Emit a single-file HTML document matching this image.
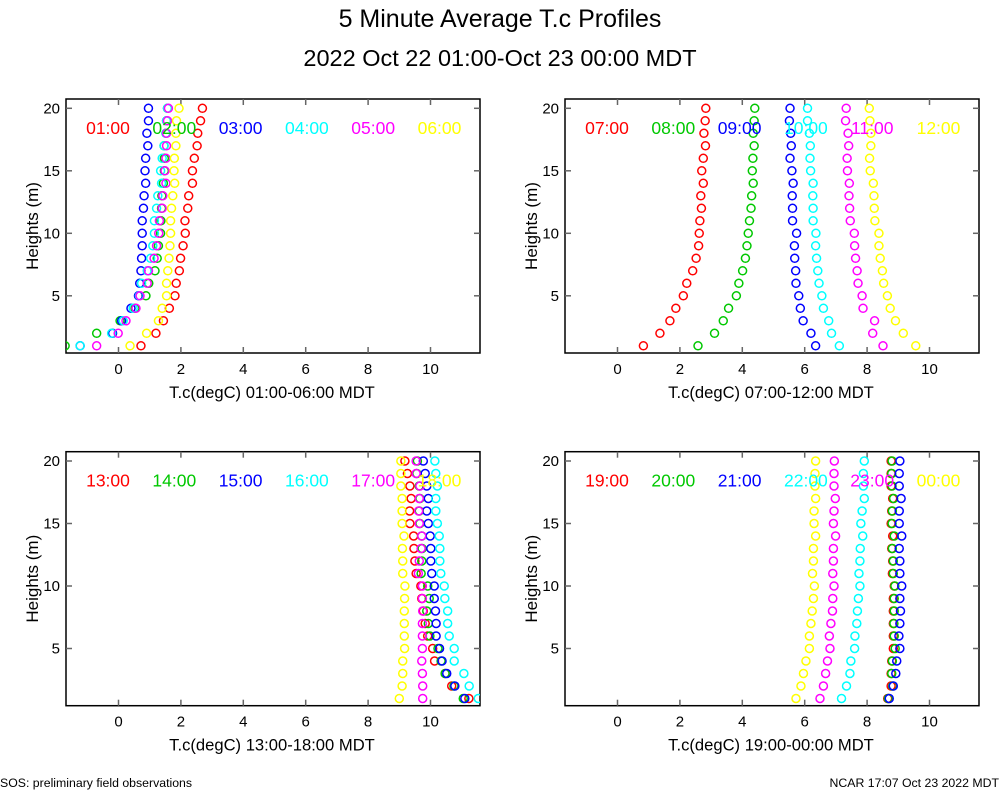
<!DOCTYPE html>
<html><head><meta charset="utf-8"><style>
body{margin:0;background:#fff;}
svg{display:block;font-family:"Liberation Sans",sans-serif;}
</style></head><body>
<svg id="chart" width="1000" height="800" viewBox="0 0 1000 800">
<text x="500" y="27" text-anchor="middle" font-size="25">5 Minute Average T.c Profiles</text>
<text x="500" y="66" text-anchor="middle" font-size="23.5">2022 Oct 22 01:00-Oct 23 00:00 MDT</text>
<text x="0" y="787" font-size="12.3">SOS: preliminary field observations</text>
<text x="999" y="787" text-anchor="end" font-size="12.3">NCAR 17:07 Oct 23 2022 MDT</text>
</svg>
<script>
const heights=[20,19,18,17,16,15,14,13,12,11,10,9,8,7,6,5,4,3,2,1];
const xTicks=[0,2,4,6,8,10];
const yTicks=[5,10,15,20];
const colors=["#ff0000","#00c800","#0000ff","#00ffff","#ff00ff","#ffff00"];
const panelTitles=["T.c(degC) 01:00-06:00 MDT","T.c(degC) 07:00-12:00 MDT","T.c(degC) 13:00-18:00 MDT","T.c(degC) 19:00-00:00 MDT"];
const labels1=["01:00","02:00","03:00","04:00","05:00","06:00"];
const labels2=["07:00","08:00","09:00","10:00","11:00","12:00"];
const labels3=["13:00","14:00","15:00","16:00","17:00","18:00"];
const labels4=["19:00","20:00","21:00","22:00","23:00","00:00"];
// panel 1
const p1_0100=[2.69,2.63,2.54,2.52,2.43,2.37,2.37,2.25,2.22,2.13,2.14,2.07,1.99,1.95,1.85,1.81,1.63,1.44,1.20,0.72];
const p1_0200=[1.57,1.54,1.52,1.46,1.47,1.47,1.44,1.39,1.38,1.36,1.35,1.28,1.24,1.17,0.97,0.88,0.53,0.05,-0.70,-1.71];
const p1_0300=[0.96,0.96,0.91,0.94,0.87,0.85,0.87,0.82,0.80,0.76,0.76,0.76,0.74,0.72,0.68,0.64,0.40,0.10,-0.19,-1.23];
const p1_0400=[1.57,1.54,1.52,1.46,1.40,1.35,1.38,1.26,1.22,1.15,1.15,1.10,1.03,0.92,0.74,0.67,0.47,0.15,-0.22,-1.23];
const p1_0500=[1.60,1.57,1.54,1.54,1.52,1.49,1.52,1.42,1.40,1.31,1.29,1.22,1.14,0.96,0.92,0.69,0.56,0.24,-0.01,-0.70];
const p1_0600=[1.94,1.86,1.84,1.84,1.79,1.78,1.80,1.74,1.70,1.67,1.67,1.65,1.62,1.58,1.54,1.54,1.40,1.28,0.90,0.37];
// panel 2
const p2_0700=[2.83,2.81,2.77,2.82,2.75,2.70,2.75,2.67,2.69,2.64,2.62,2.60,2.52,2.41,2.22,2.11,1.87,1.68,1.36,0.83];
const p2_0800=[4.40,4.38,4.35,4.38,4.34,4.32,4.35,4.30,4.28,4.23,4.19,4.15,4.10,4.01,3.89,3.81,3.56,3.39,3.11,2.58];
const p2_0900=[5.53,5.51,5.55,5.57,5.53,5.59,5.63,5.60,5.61,5.61,5.74,5.67,5.68,5.71,5.72,5.81,5.86,5.95,6.20,6.35];
const p2_1000=[6.09,6.09,6.15,6.18,6.17,6.19,6.27,6.26,6.27,6.27,6.36,6.35,6.38,6.42,6.46,6.55,6.60,6.77,6.86,7.11];
const p2_1100=[7.33,7.31,7.39,7.41,7.36,7.37,7.43,7.42,7.44,7.46,7.59,7.60,7.63,7.68,7.71,7.84,7.87,8.24,8.18,8.51];
const p2_1200=[8.07,8.09,8.12,8.12,8.08,8.10,8.20,8.22,8.23,8.25,8.38,8.38,8.42,8.49,8.53,8.65,8.74,8.91,9.16,9.56];
// panel 3
const p3_1300=[9.18,9.26,9.34,9.38,9.33,9.34,9.46,9.47,9.50,9.54,9.69,9.72,9.77,9.83,9.91,10.07,10.13,10.47,10.68,11.23];
const p3_1400=[9.58,9.56,9.64,9.66,9.64,9.66,9.72,9.73,9.72,9.70,9.91,9.96,9.88,9.93,9.98,10.24,10.34,10.47,10.75,11.05];
const p3_1500=[9.77,9.83,9.88,9.93,9.88,9.93,9.99,10.01,10.01,10.04,10.12,10.12,10.16,10.18,10.18,10.29,10.37,10.52,10.78,11.10];
const p3_1600=[10.14,10.17,10.22,10.17,10.17,10.22,10.28,10.30,10.30,10.33,10.44,10.46,10.55,10.55,10.60,10.76,10.76,11.07,11.24,11.53];
const p3_1700=[9.54,9.54,9.66,9.64,9.62,9.64,9.72,9.70,9.64,9.61,9.74,9.74,9.75,9.74,9.74,9.74,9.72,9.74,9.75,9.75];
const p3_1800=[9.05,9.05,9.05,9.09,9.09,9.09,9.15,9.10,9.11,9.11,9.18,9.17,9.16,9.16,9.16,9.17,9.11,9.11,9.09,9.00];
// panel 4
const p4_1900=[8.77,8.77,8.77,8.82,8.79,8.77,8.82,8.79,8.82,8.81,8.87,8.84,8.84,8.84,8.84,8.84,8.79,8.77,8.77,8.66];
const p4_2000=[8.80,8.79,8.80,8.85,8.81,8.80,8.87,8.81,8.84,8.84,8.89,8.87,8.87,8.86,8.87,8.90,8.81,8.79,8.82,8.68];
const p4_2100=[9.05,9.03,9.03,9.09,9.03,9.03,9.11,9.03,9.05,9.05,9.11,9.05,9.07,9.05,9.02,9.05,8.95,8.92,8.84,8.71];
const p4_2200=[7.91,7.88,7.88,7.91,7.84,7.80,7.86,7.78,7.77,7.74,7.77,7.72,7.69,7.67,7.61,7.60,7.48,7.45,7.34,7.18];
const p4_2300=[6.95,6.94,6.94,6.98,6.94,6.92,6.99,6.92,6.92,6.90,6.94,6.90,6.89,6.84,6.79,6.81,6.73,6.67,6.60,6.49];
const p4_0000=[6.35,6.33,6.33,6.35,6.30,6.30,6.35,6.28,6.28,6.25,6.31,6.28,6.24,6.20,6.15,6.15,6.04,5.96,5.88,5.72];

const NS="http://www.w3.org/2000/svg";
const svg=document.getElementById("chart");
function mk(tag,attrs,parent){const e=document.createElementNS(NS,tag);for(const k in attrs)e.setAttribute(k,attrs[k]);(parent||svg).appendChild(e);return e;}
const panels=[
 {ox:0,oy:0,labels:labels1,series:[p1_0100,p1_0200,p1_0300,p1_0400,p1_0500,p1_0600]},
 {ox:499,oy:0,labels:labels2,series:[p2_0700,p2_0800,p2_0900,p2_1000,p2_1100,p2_1200]},
 {ox:0,oy:352.7,labels:labels3,series:[p3_1300,p3_1400,p3_1500,p3_1600,p3_1700,p3_1800]},
 {ox:499,oy:352.7,labels:labels4,series:[p4_1900,p4_2000,p4_2100,p4_2200,p4_2300,p4_0000]}
];
panels.forEach((p,pi)=>{
 const L=66+p.ox,R=480+p.ox,T=99+p.oy,B=353+p.oy;
 const xs=v=>118.5+p.ox+31.2*v;
 const ys=v=>108.3+p.oy+(20-v)*12.5;
 const g=mk("g",{});
 
 
 const cp=mk("clipPath",{id:"cp"+pi},g);
 mk("rect",{x:L,y:T,width:R-L,height:B-T},cp);
 const box=mk("rect",{x:L,y:T,width:R-L,height:B-T,fill:"none",stroke:"#000","stroke-width":1.5},g);
 
 
 xTicks.forEach(t=>{
  const x=xs(t);
  mk("line",{x1:x,x2:x,y1:B,y2:B-6,stroke:"#666","stroke-width":1.5},g);
  mk("line",{x1:x,x2:x,y1:T,y2:T+6,stroke:"#666","stroke-width":1.5},g);
  const tx=mk("text",{x:x,y:B+21,"text-anchor":"middle","font-size":15},g);
  tx.textContent=t;
  
  
 });
 yTicks.forEach(t=>{
  const y=ys(t);
  mk("line",{x1:L,x2:L+6,y1:y,y2:y,stroke:"#666","stroke-width":1.5},g);
  mk("line",{x1:R,x2:R-6,y1:y,y2:y,stroke:"#666","stroke-width":1.5},g);
  const tx=mk("text",{x:L-6,y:y+5,"text-anchor":"end","font-size":15},g);
  tx.textContent=t;
  
  
 });
 const xt=mk("text",{x:(L+R)/2-1,y:B+45,"text-anchor":"middle","font-size":16.6},g);
 xt.textContent=panelTitles[pi];
 
 
 const cy=(T+B)/2;
 const yt=mk("text",{x:38+p.ox,y:cy,"text-anchor":"middle","font-size":17,transform:`rotate(-90 ${38+p.ox} ${cy})`},g);
 yt.textContent="Heights (m)";
 
 
 const pg=mk("g",{"clip-path":`url(#cp${pi})`},g);
 p.series.forEach((s,si)=>{
  const sg=mk("g",{fill:"none",stroke:colors[si],"stroke-width":1.5},pg);
  
  
  s.forEach((v,i)=>{
   const c=mk("circle",{cx:xs(v),cy:ys(heights[i]),r:4},sg);
   
   
  });
 });
 p.labels.forEach((lb,si)=>{
  const lx=108+p.ox+si*66.3;
  const tx=mk("text",{x:lx,y:T+35,"text-anchor":"middle","font-size":17.5,fill:colors[si]},g);
  tx.textContent=lb;
  
  
 });
});
</script>
</body></html>
